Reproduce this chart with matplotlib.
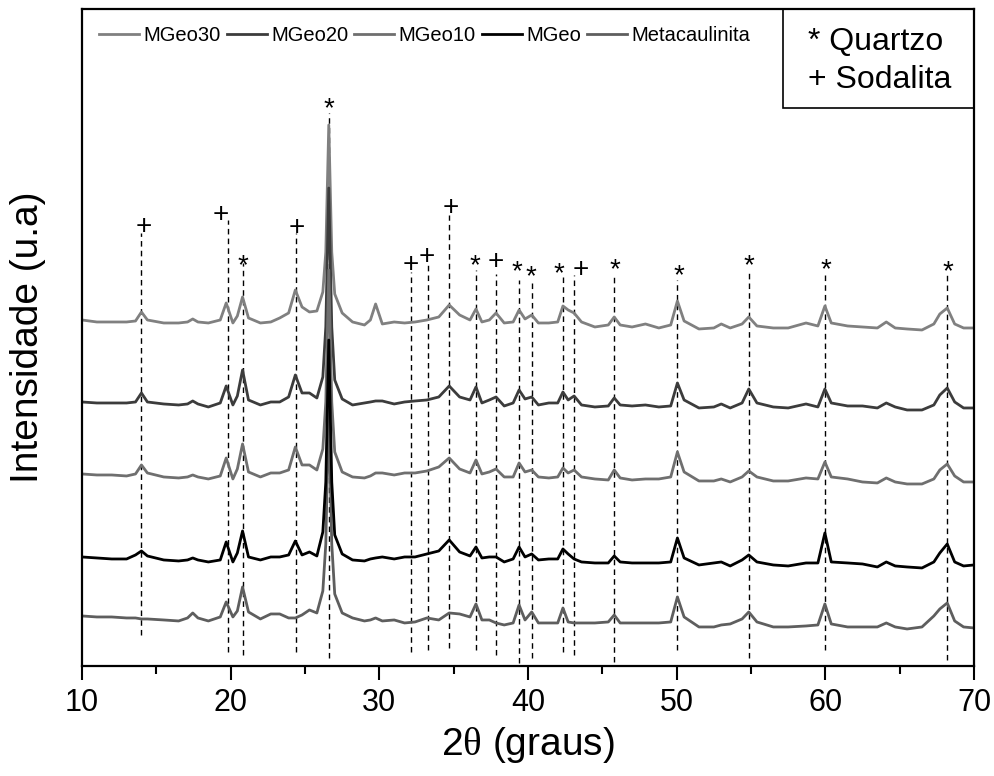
import matplotlib
matplotlib.use("Agg")
import matplotlib.pyplot as plt
from matplotlib.lines import Line2D
from matplotlib.patches import Rectangle

plt.rcParams['font.family'] = ['Liberation Sans', 'DejaVu Sans']
plt.rcParams['mathtext.fontset'] = 'custom'
plt.rcParams['mathtext.rm'] = 'Liberation Serif'

# 2theta grid (degrees) shared by all patterns
two_theta = [10.0, 11.0, 12.0, 13.0, 13.6, 14.0, 14.4, 15.5, 16.5, 17.1,
             17.45, 17.8, 18.5, 19.3, 19.7, 20.15, 20.45, 20.8, 21.2, 22.0,
             22.7, 23.3, 23.9, 24.35, 24.8, 25.3, 25.8, 26.2, 26.4, 26.6,
             26.8, 27.0, 27.5, 28.2, 29.0, 29.4, 29.75, 30.2, 31.0, 31.7,
             32.4, 33.2, 34.0, 34.7, 35.4, 36.1, 36.5, 36.9, 37.4, 37.85,
             38.4, 39.0, 39.4, 39.8, 40.25, 40.7, 41.4, 42.0, 42.35, 42.7,
             43.1, 43.6, 44.5, 45.4, 45.8, 46.2, 47.0, 47.9, 48.8, 49.6,
             50.05, 50.5, 51.5, 52.5, 53.0, 53.6, 54.4, 54.85, 55.4, 56.5,
             57.5, 58.7, 59.5, 59.97, 60.4, 61.5, 62.5, 63.5, 64.1, 64.7,
             65.5, 66.5, 67.3, 67.7, 68.2, 68.7, 69.3, 70.0]

# intensities (a.u.), relative to each pattern's baseline
mgeo30 = [2, 0, 0, 0, 1, 10, 2, -1, -1, 0,
          3, 0, -1, 2, 19, -1, 6, 25, 4, -1,
          0, 4, 9, 32, 15, 10, 11, 30, 70, 197,
          70, 28, 9, 0, -3, 2, 18, -2, 0, -1,
          0, 2, 5, 17, 7, 2, 13, 0, 2, 9,
          -1, 0, 12, 3, 7, -1, -1, 0, 16, 12,
          9, 0, -5, -3, 5, -3, -5, -2, -6, -3,
          21, 1, -7, -6, -2, -6, -2, 5, -4, -6,
          -6, -1, -4, 16, -1, -4, -5, -6, 0, -6,
          -7, -8, -2, 8, 14, -2, -6, -6]
mgeo20 = [0, -1, -1, -1, 0, 9, 0, -2, -3, -2,
          1, -2, -5, -1, 16, -3, 6, 32, 2, -3,
          0, 0, 5, 27, 9, 9, 4, 25, 75, 214,
          75, 22, 3, -3, -1, 0, 1, 1, -2, 0,
          1, 2, 5, 16, 5, 2, 15, -1, 2, 5,
          -4, -1, 12, 3, 5, -3, -1, -1, 10, 2,
          6, -3, -5, -4, 4, -3, -4, -3, -5, -4,
          19, 2, -6, -5, -2, -6, -1, 13, -1, -5,
          -6, -2, -5, 13, -1, -4, -4, -6, -1, -5,
          -8, -8, -3, 7, 14, 0, -6, -6]
mgeo10 = [0, -1, -1, -2, 0, 9, 1, -3, -4, -3,
          -1, -3, -5, -2, 16, -5, 5, 30, 2, -3,
          1, 1, 4, 27, 9, 9, 4, 25, 72, 204,
          72, 22, 2, -3, -4, -2, 1, 1, -1, 1,
          1, 3, 7, 16, 5, 1, 14, 0, 2, 5,
          -3, -3, 11, 2, 4, -3, -4, -3, 6, 1,
          4, -3, -5, -6, 4, -4, -6, -5, -5, -3,
          22, 2, -7, -7, -5, -8, -3, 3, -3, -7,
          -7, -4, -5, 12, -3, -5, -8, -9, -4, -8,
          -10, -10, -5, 4, 10, -2, -8, -8]
mgeo = [0, -1, -2, -2, 2, 6, 1, -3, -4, -3,
        -1, -3, -5, -3, 15, -5, 4, 26, 0, -3,
        0, 0, 2, 16, 2, 5, 1, 25, 75, 217,
        75, 22, 3, -3, -4, -2, -1, 0, -2, 0,
        0, 3, 6, 17, 5, 1, 10, -1, 0, 0,
        -5, -2, 10, 0, 3, -3, -2, -2, 8, 3,
        -2, -5, -6, -6, 1, -5, -6, -6, -6, -5,
        19, -1, -8, -6, -5, -9, -3, 2, -5, -8,
        -9, -6, -6, 24, -5, -6, -7, -10, -5, -9,
        -10, -11, -5, 4, 13, -5, -9, -8]
metacaulinita = [0, -1, -1, -2, -2, -3, -3, -4, -5, -2,
                 3, -2, -5, -1, 14, -1, 5, 29, 4, -3,
                 2, 2, -2, -2, 1, 6, 3, 25, 72, 210,
                 72, 22, 3, -2, -5, -4, -2, -5, -4, -7,
                 -6, -2, -4, 3, 2, -1, 12, -4, -4, -7,
                 -9, -7, 11, -4, 4, -7, -7, -7, 8, -6,
                 -7, -7, -7, -6, 1, -7, -7, -7, -7, -6,
                 19, -1, -11, -11, -9, -8, -3, 4, -6, -11,
                 -11, -10, -9, 12, -8, -11, -11, -11, -7, -11,
                 -13, -11, 0, 7, 13, -5, -11, -12]

series_names = ['MGeo30', 'MGeo20', 'MGeo10', 'MGeo', 'Metacaulinita']
series_data = [mgeo30, mgeo20, mgeo10, mgeo, metacaulinita]
stack_offsets = [344, 264, 192, 109, 50]
series_colors = ['#808080', '#3c3c3c', '#6f6f6f', '#000000', '#5e5e5e']

# phase markers: * quartzo, + sodalita
marker_pos = [14.0, 19.8, 20.8, 24.4, 26.6, 32.1, 33.25, 34.7, 36.5, 37.85,
              39.4, 40.25, 42.35, 43.1, 45.8, 50.05, 54.85, 59.97, 68.2]
marker_sym = ['+', '+', '*', '+', '*', '+', '+', '+', '*', '+',
              '*', '*', '*', '+', '*', '*', '*', '*', '*']
label_x = [14.15, 19.35, 20.85, 24.45, 26.62, 32.08, 33.2, 34.8, 36.45, 37.82,
           39.23, 40.2, 42.05, 43.53, 45.85, 50.15, 54.85, 60.02, 68.22]
label_y = [441, 453, 409, 440, 566, 403, 411, 460, 409, 406,
           403, 398, 401, 398, 405, 399, 409, 405, 403]
line_top = [433, 446, 403, 433, 553, 394, 403, 451, 396, 392,
            386, 386, 392, 391, 389, 386, 396, 392, 392]
line_bottom = [31, 14, 11, 14, 8, 14, 16, 18, 16, 11,
               3, 8, 14, 11, 4, 16, 8, 16, 6]

phase_key = ['* Quartzo', '+ Sodalita']

fig = plt.figure(figsize=(9.95, 7.76), dpi=100)
ax = fig.add_axes([0.0824, 0.1418, 0.8965, 0.8466])

for x, lo, hi in zip(marker_pos, line_bottom, line_top):
    ax.plot([x, x], [lo, hi], color='black', lw=1.0, ls=(0, (4, 3)), zorder=1)

draw_order = [4, 0, 1, 2, 3]
for i in draw_order:
    y = [v + stack_offsets[i] for v in series_data[i]]
    ax.plot(two_theta, y, color=series_colors[i], lw=2.0, zorder=2)

sym_fs = 20
for x, y, s in zip(label_x, label_y, marker_sym):
    shift = 0.58 if s == '*' else 0.34
    ax.annotate(s, (x, y), xytext=(0, -shift * sym_fs), textcoords='offset points',
                ha='center', va='baseline', fontsize=sym_fs)

handles = [Line2D([], [], color=c, lw=2.0) for c in series_colors]
ax.legend(handles, series_names, loc='upper left', ncol=5, frameon=False,
          fontsize=14.5, handlelength=2.0, handletextpad=0.2, columnspacing=0.3,
          bbox_to_anchor=(0.0, 1.0), borderaxespad=0.3, borderpad=0.55)

# phase key box in the upper right corner
ax.add_patch(Rectangle((0.786, 0.849), 0.214, 0.151, transform=ax.transAxes,
                       fc='white', ec='black', lw=1.2, zorder=5))
ax.text(0.814, 0.950, phase_key[0], transform=ax.transAxes, fontsize=23,
        ha='left', va='center', zorder=6)
ax.text(0.814, 0.892, phase_key[1], transform=ax.transAxes, fontsize=23,
        ha='left', va='center', zorder=6)

ax.set_xlim(10, 70)
ax.set_ylim(0, 657)
ax.set_yticks([])
ax.set_xticks([10, 20, 30, 40, 50, 60, 70])
ax.set_xticks([15, 25, 35, 45, 55, 65], minor=True)
ax.tick_params(axis='x', which='major', direction='out', length=10, width=1.5,
               labelsize=22, pad=6, top=False)
ax.tick_params(axis='x', which='minor', direction='out', length=6, width=1.5, top=False)
for sp in ax.spines.values():
    sp.set_linewidth(1.6)
    sp.set_zorder(7)

ax.set_xlabel(r'2$\mathrm{\theta}$ (graus)', fontsize=28)
ax.xaxis.label.set_va('center')
ax.xaxis.set_label_coords(0.5, -0.120)
ax.set_ylabel('Intensidade (u.a)', fontsize=28)
ax.yaxis.label.set_va('center')
ax.yaxis.set_label_coords(-0.061, 0.50)

fig.savefig('out.png', dpi=100)
